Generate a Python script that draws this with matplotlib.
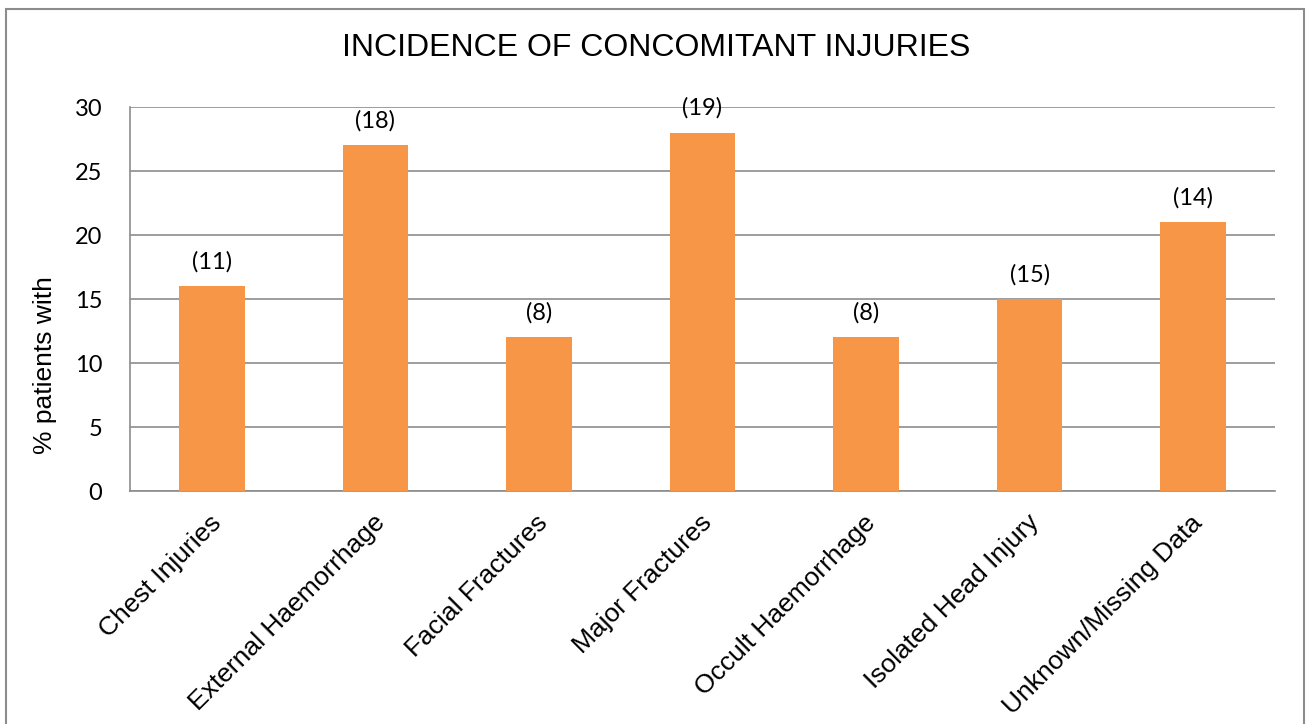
import matplotlib
matplotlib.use("Agg")
import matplotlib.pyplot as plt
from matplotlib.patches import Rectangle
from matplotlib.transforms import ScaledTranslation

categories = ["Chest Injuries", "External Haemorrhage", "Facial Fractures",
              "Major Fractures", "Occult Haemorrhage", "Isolated Head Injury",
              "Unknown/Missing Data"]
percent_values = [16, 27, 12, 28, 12, 15, 21]
patient_counts = [11, 18, 8, 19, 8, 15, 14]
y_ticks = [0, 5, 10, 15, 20, 25, 30]

W, H = 1306, 724
fig = plt.figure(figsize=(W / 100, H / 100), dpi=100)
ax = fig.add_axes([130 / W, 1 - 491 / H, (1275 - 130) / W, (491 - 107) / H])

bar_color = "#F79646"
grid_color = "#8C8C8C"
x = list(range(len(categories)))
ax.bar(x, percent_values, width=0.4, color=bar_color, zorder=3)

for xi, v, n in zip(x, percent_values, patient_counts):
    ax.annotate(f"({n})", (xi, v), xytext=(0, 10), textcoords="offset points",
                ha="center", va="bottom", fontsize=17, family="Lato", zorder=4)

ax.set_xlim(-0.5, len(categories) - 0.5)
ax.set_ylim(0, 30)
ax.set_yticks(y_ticks)
ax.set_yticklabels([str(t) for t in y_ticks], family="Lato", fontsize=17)
ax.yaxis.grid(True, color=grid_color, linewidth=1.2, zorder=0)
ax.set_axisbelow(True)
ax.tick_params(axis="y", length=0, pad=20)
ax.tick_params(axis="x", length=0, pad=14)

ax.set_xticks(x)
ax.set_xticklabels(categories, rotation=45, ha="right", va="top",
                   rotation_mode="anchor", family="Liberation Sans", fontsize=19)
for lbl in ax.get_xticklabels():
    lbl.set_transform(lbl.get_transform() +
                      ScaledTranslation(-3 / 100, 0, fig.dpi_scale_trans))

for side in ["top", "right"]:
    ax.spines[side].set_visible(False)
for side in ["left", "bottom"]:
    ax.spines[side].set_color(grid_color)
    ax.spines[side].set_linewidth(1.2)

ax.set_ylabel("% patients with", family="Liberation Sans", fontsize=19)
ax.yaxis.set_label_coords(-73 / (1275 - 130), (491 - 365) / (491 - 107))

fig.text(656 / W, 1 - 48 / H, "INCIDENCE OF CONCOMITANT INJURIES",
         ha="center", va="center", family="Liberation Sans", fontsize=23)

# outer frame around the chart area
fig.patches.append(Rectangle((6 / W, -0.05), (1304 - 6) / W, 1.05 - 9 / H,
                             transform=fig.transFigure, fill=False,
                             edgecolor="#8C8C8C", linewidth=1.5))

fig.savefig("out.png", dpi=100)
